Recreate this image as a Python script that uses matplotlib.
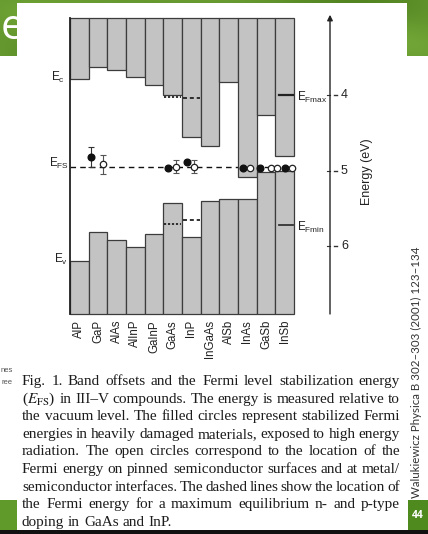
import matplotlib
matplotlib.use("Agg")
import matplotlib.pyplot as plt
from matplotlib.patches import Rectangle
import numpy as np

plt.rcParams['font.family'] = ['Liberation Sans', 'DejaVu Sans']
plt.rcParams['mathtext.fontset'] = 'custom'
plt.rcParams['mathtext.rm'] = 'Liberation Sans'
plt.rcParams['mathtext.it'] = 'Liberation Sans:italic'
plt.rcParams['mathtext.bf'] = 'Liberation Sans:bold'

# ---- data: band edges relative to the vacuum level (eV) ----
compounds = ["AlP", "GaP", "AlAs", "AlInP", "GaInP", "GaAs",
             "InP", "InGaAs", "AlSb", "InAs", "GaSb", "InSb"]
cb_edge = [3.78, 3.63, 3.66, 3.76, 3.87, 4.00, 4.55, 4.67, 3.83, 5.09, 4.26, 4.81]
vb_edge = [6.20, 5.82, 5.92, 6.02, 5.84, 5.43, 5.89, 5.40, 5.38, 5.38, 5.02, 5.01]
e_fs = 4.95

# maximum n- and p-type doping Fermi levels
doping_cmp = ["GaAs", "InP"]
doping_ef_max = [4.02, 4.03]
doping_ef_min = [5.71, 5.66]
insb_ef_max = 4.00
insb_ef_min = 5.73

# stabilized Fermi energies (filled) and pinned surface values (open)
filled_cmp = ["GaP", "GaAs", "InP", "InAs", "GaSb", "InSb"]
filled_e = [4.82, 4.97, 4.89, 4.97, 4.96, 4.96]
filled_err = [0.13, 0.0, 0.0, 0.0, 0.0, 0.0]
open_cmp = ["GaP", "GaAs", "InP", "InAs", "GaSb", "InSb", "InSb"]
open_e = [4.92, 4.95, 4.95, 4.97, 4.96, 4.96, 4.96]
open_err = [0.13, 0.085, 0.085, 0.0, 0.0, 0.0, 0.0]

energy_ticks = [4, 5, 6]
e_top, e_bottom = 2.973, 6.907

caption_lines = [
    "Fig. 1. Band offsets and the Fermi level stabilization energy",
    r"($E_{\mathrm{FS}}$) in III" + "\u2013" + "V compounds. The energy is measured relative to",
    "the vacuum level. The filled circles represent stabilized Fermi",
    "energies in heavily damaged materials, exposed to high energy",
    "radiation. The open circles correspond to the location of the",
    "Fermi energy on pinned semiconductor surfaces and at metal/",
    "semiconductor interfaces. The dashed lines show the location of",
    "the Fermi energy for a maximum equilibrium n- and p-type",
    "doping in GaAs and InP.",
]
citation = "Walukiewicz Physica B 302\u2013303 (2001) 123\u2013134"
page_no = "44"

# ---- figure in pixel units ----
W, H = 428, 534
fig = plt.figure(figsize=(W / 100, H / 100), dpi=100)
fig.patch.set_facecolor("white")


def fx(px):
    return px / W


def fy(py):
    return 1 - py / H


def frect(x0, y0, x1, y1, color, z):
    fig.add_artist(Rectangle((fx(x0), fy(y1)), (x1 - x0) / W, (y1 - y0) / H,
                             transform=fig.transFigure, facecolor=color,
                             edgecolor="none", zorder=z))


# green slide header
hdr = fig.add_axes([0, fy(56), 1, 56 / H], zorder=0)
gx = np.linspace(0, 1, 200)
gy = np.linspace(0, 1, 30)
GX, GY = np.meshgrid(gx, gy)
shade = 0.5 + 0.25 * np.sin(6 * GX + 3 * GY) + 0.15 * np.cos(11 * GX - 5 * GY)
c0 = np.array([78, 128, 30]) / 255
c1 = np.array([118, 170, 58]) / 255
img = c0[None, None, :] + (c1 - c0)[None, None, :] * shade[:, :, None]
hdr.imshow(np.clip(img, 0, 1), aspect="auto", extent=[0, 1, 0, 1])
hdr.axis("off")
fig.text(fx(1), fy(28), "e", color="white", fontsize=30, va="center",
         ha="left", family="Open Sans", zorder=1)

# white panel holding the figure
frect(17, 3, 407, 530, "white", 2)

# bottom slide decorations
frect(0, 500, 17, 530, "#5f9a2a", 2)
frect(408, 500, 428, 530, "#4f8a1e", 2)
frect(0, 530, 428, 534, "#111111", 6)
fig.text(fx(418), fy(516), page_no, color="white", fontsize=7.5,
         fontweight="bold", ha="center", va="center", family="Open Sans", zorder=7)
fig.text(fx(416), fy(498), citation, rotation=90, ha="center", va="bottom",
         fontsize=8.3, family="Lato", color="#333333", zorder=7)
fig.text(fx(13), fy(371), "nes", fontsize=5.5, ha="right", va="center",
         color="#555555", zorder=7)
fig.text(fx(13), fy(383), "ree", fontsize=5.5, ha="right", va="center",
         color="#555555", zorder=7)

# ---- band diagram ----
AX_L, AX_T, AX_R, AX_B = 70, 18, 294, 314
ax = fig.add_axes([fx(AX_L), fy(AX_B), (AX_R - AX_L) / W, (AX_B - AX_T) / H],
                  zorder=3)
ax.set_xlim(0, 12)
ax.set_ylim(e_bottom, e_top)
ax.axis("off")
col_w = (AX_R - AX_L) / 12.0


def xd(px):
    return (px - AX_L) / col_w


idx = {c: i for i, c in enumerate(compounds)}
xs = np.arange(len(compounds))
bar_fc, bar_ec = "#c3c3c3", "#3c3c3c"
ax.bar(xs, [c - e_top for c in cb_edge], bottom=e_top, width=1.0, align="edge",
       facecolor=bar_fc, edgecolor=bar_ec, linewidth=0.9, zorder=2, clip_on=False)
ax.bar(xs, [e_bottom - v for v in vb_edge], bottom=vb_edge, width=1.0, align="edge",
       facecolor=bar_fc, edgecolor=bar_ec, linewidth=0.9, zorder=2, clip_on=False)
ax.plot([0, 0], [e_top, e_bottom], color="#222222", lw=1.3, zorder=3, clip_on=False)

# stabilization energy
ax.plot([0, 12], [e_fs, e_fs], color="#111111", lw=1.0, ls=(0, (4, 3)), zorder=1.5)

# doping limits
for c, emax, emin in zip(doping_cmp, doping_ef_max, doping_ef_min):
    i = idx[c]
    style = (0, (1.2, 1.0)) if c == "GaAs" else (0, (2.2, 1.6))
    ax.plot([i + 0.05, i + 0.95], [emax, emax], color="#222222", lw=1.3, ls=style, zorder=3)
    ax.plot([i + 0.05, i + 0.95], [emin, emin], color="#222222", lw=1.3, ls=style, zorder=3)
i = idx["InSb"]
ax.plot([i + 0.2, i + 0.95], [insb_ef_max, insb_ef_max], color="#222222", lw=1.6, zorder=3)
ax.plot([i + 0.2, i + 0.95], [insb_ef_min, insb_ef_min], color="#333333", lw=1.3, zorder=3)

# Fermi level points
filled_dx = [0.14, 0.25, 0.25, 0.25, 0.18, 0.50]
open_dx = [0.78, 0.66, 0.64, 0.64, 0.75, 0.10, 0.88]
for c, e, err, dx in zip(filled_cmp, filled_e, filled_err, filled_dx):
    x = idx[c] + dx
    if err > 0:
        ax.errorbar(x, e, yerr=err, fmt="none", ecolor="#333333", elinewidth=0.8,
                    capsize=2.2, capthick=0.8, zorder=4)
    ax.plot(x, e, "o", ms=4.8, color="#111111", zorder=5)
for c, e, err, dx in zip(open_cmp, open_e, open_err, open_dx):
    x = idx[c] + dx
    if err > 0:
        ax.errorbar(x, e, yerr=err, fmt="none", ecolor="#555555", elinewidth=0.8,
                    capsize=2.2, capthick=0.8, zorder=4)
    ax.plot(x, e, "o", ms=4.6, mfc="white", mec="#222222", mew=0.9, zorder=5,
            clip_on=False)

# energy axis on the right
xa = xd(330)
ax.annotate("", xy=(xa, 2.93), xytext=(xa, e_bottom), annotation_clip=False,
            arrowprops=dict(arrowstyle="-|>", lw=1.0, color="#222222",
                            mutation_scale=8, shrinkA=0, shrinkB=0))
for t in energy_ticks:
    ax.plot([xd(327.5), xa], [t, t], color="#333333", lw=0.8, clip_on=False)
    ax.plot([xd(334), xd(337.5)], [t, t], color="#333333", lw=1.0, clip_on=False)
    ax.text(xd(341), t, f"{t}", ha="left", va="center", fontsize=9,
            color="#222222", clip_on=False)
ax.text(xd(367), 5.02, "Energy (eV)", rotation=90, ha="center", va="center",
        fontsize=9, color="#222222", clip_on=False)

# level labels
ax.text(xd(51), 3.76, r"E$_{\rm c}$", ha="left", va="center", fontsize=8.5,
        color="#222222", clip_on=False)
ax.text(xd(49), 4.90, r"E$_{\rm FS}$", ha="left", va="center", fontsize=8.5,
        color="#222222", clip_on=False)
ax.text(xd(54), 6.18, r"E$_{\rm v}$", ha="left", va="center", fontsize=8.5,
        color="#222222", clip_on=False)
ax.text(xd(297), insb_ef_max + 0.03, r"E$_{\rm Fmax}$", ha="left", va="center",
        fontsize=8.5, color="#222222", clip_on=False)
ax.text(xd(297), insb_ef_min + 0.03, r"E$_{\rm Fmin}$", ha="left", va="center",
        fontsize=8.5, color="#222222", clip_on=False)

# compound names
for i, c in enumerate(compounds):
    ax.text(i + 0.5, e_bottom + (320 - AX_B) / 75.25, c, rotation=90,
            ha="center", va="top", fontsize=8.3, color="#222222", clip_on=False)

# ---- justified caption ----
renderer = fig.canvas.get_renderer()
cap_left, cap_right = 22, 400
cap_base0, cap_step = 385, 17.6
cap_size = 11.0
for li, line in enumerate(caption_lines):
    words = line.split(" ")
    y = fy(cap_base0 + li * cap_step)
    texts = [fig.text(0, y, w, fontsize=cap_size, family="Liberation Serif",
                      math_fontfamily="stix", va="baseline", ha="left",
                      color="#1c1c1c", zorder=7) for w in words]
    widths = [t.get_window_extent(renderer).width for t in texts]
    if li < len(caption_lines) - 1:
        gap = (cap_right - cap_left - sum(widths)) / (len(words) - 1)
    else:
        gap = 0.25 * cap_size * 100 / 72
    x = cap_left
    for t, w in zip(texts, widths):
        t.set_x(fx(x))
        x += w + gap

fig.savefig("out.png", dpi=100)
